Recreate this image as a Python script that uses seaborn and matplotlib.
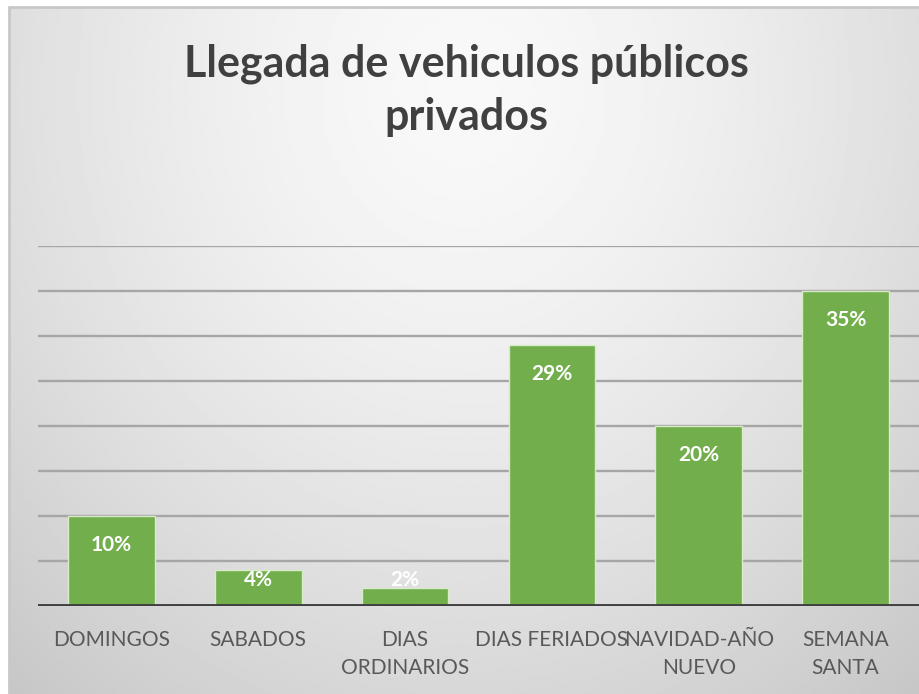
import numpy as np
import matplotlib
matplotlib.use("Agg")
import matplotlib.pyplot as plt
import seaborn as sns

categories = ["DOMINGOS", "SABADOS", "DIAS\nORDINARIOS", "DIAS FERIADOS",
              "NAVIDAD-AÑO\nNUEVO", "SEMANA\nSANTA"]
values = [10, 4, 2, 29, 20, 35]
value_labels = ["10%", "4%", "2%", "29%", "20%", "35%"]
title = "Llegada de vehiculos públicos\nprivados"

sns.set_theme(style="white")
plt.rcParams['font.family'] = ['Lato', 'DejaVu Sans']

W, H = 919, 694
fig = plt.figure(figsize=(W / 100, H / 100), dpi=100)
fig.patch.set_facecolor("white")

# background panel with soft radial gradient
bg = fig.add_axes([9 / W, 0, 1 - 9 / W, 1 - 7 / H])
yy, xx = np.mgrid[0:1:300j, 0:1:400j]
d = np.sqrt(((xx - 0.5) / 0.7) ** 2 + ((yy - 0.12) / 1.05) ** 2)
shade = 0.975 - 0.17 * np.clip(d, 0, 1.2) ** 1.5
bg.imshow(shade, cmap="gray", vmin=0, vmax=1, aspect="auto",
          extent=[0, 1, 0, 1], origin="upper", interpolation="bilinear")
bg.set_axis_off()
bg.plot([0, 0], [0, 1], color="#c8c8c8", lw=2, transform=bg.transAxes, clip_on=False)
bg.plot([0, 1], [1, 1], color="#c8c8c8", lw=2, transform=bg.transAxes, clip_on=False)

ax = fig.add_axes([38 / W, 88 / H, (W - 38) / W, 360 / H])
ax.set_facecolor("none")
sns.barplot(x=categories, y=values, color="#72AE4C", saturation=1, width=0.59, ax=ax,
            edgecolor="#d8ecc8", linewidth=1.0, zorder=3)
ax.set_xlim(-0.5, 5.5)
ax.set_ylim(0, 40)
ax.set_yticks(np.arange(0, 41, 5))
ax.set_yticklabels([])
ax.tick_params(axis="y", length=0)
ax.tick_params(axis="x", length=0, pad=17, labelsize=15, labelcolor="#595959")
for t in ax.get_xticklabels():
    t.set_linespacing(1.55)
ax.yaxis.grid(True, color="#a6a6a6", lw=1.7, zorder=0)
ax.set_axisbelow(True)
for s in ax.spines.values():
    s.set_visible(False)
ax.axhline(0, color="#404040", lw=2.8, zorder=5)
ax.set_xlabel("")
ax.set_ylabel("")

for i, (v, lab) in enumerate(zip(values, value_labels)):
    ax.text(i, max(v - 3.2, 2.9), lab, ha="center", va="center", color="white",
            fontsize=15, fontweight="bold", zorder=6)

fig.text(466 / W, 1 - 90 / H, title, ha="center", va="center",
         fontsize=31, fontweight="bold", color="#404040", linespacing=1.4)

fig.savefig("out.png", dpi=100)
